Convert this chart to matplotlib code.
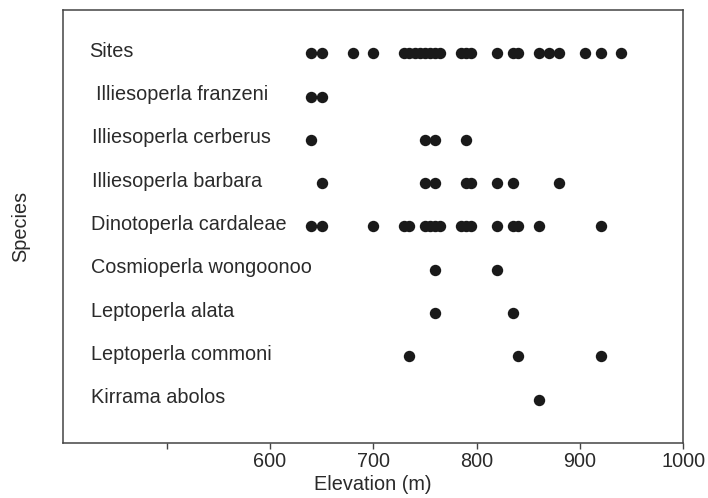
import matplotlib
matplotlib.use("Agg")
import matplotlib.pyplot as plt

plt.rcParams['font.family'] = ['Liberation Sans', 'DejaVu Sans']

# ---- data ----
species = [
    "Sites",
    "Illiesoperla franzeni",
    "Illiesoperla cerberus",
    "Illiesoperla barbara",
    "Dinotoperla cardaleae",
    "Cosmioperla wongoonoo",
    "Leptoperla alata",
    "Leptoperla commoni",
    "Kirrama abolos",
]
sites = [640, 650, 680, 700, 730, 735, 740, 745, 750, 755, 760, 765,
         785, 790, 795, 820, 835, 840, 860, 870, 880, 905, 920, 940]
franzeni = [640, 650]
cerberus = [640, 750, 760, 790]
barbara = [650, 750, 760, 790, 795, 820, 835, 880]
cardaleae = [640, 650, 700, 730, 735, 750, 755, 760, 765,
             785, 790, 795, 820, 835, 840, 860, 920]
wongoonoo = [760, 820]
alata = [760, 835]
commoni = [735, 840, 920]
kirrama = [860]
elevations = [sites, franzeni, cerberus, barbara, cardaleae,
              wongoonoo, alata, commoni, kirrama]
xticks = [500, 600, 700, 800, 900, 1000]
xticklabels = ["", "600", "700", "800", "900", "1000"]

# ---- layout ----
label_x = [425, 431.5, 428, 428, 427, 427, 427, 427, 427]

fig = plt.figure(figsize=(7.08, 4.98), dpi=100)
ax = fig.add_axes([63.3 / 708, 1 - 443 / 498, 620 / 708, 433 / 498])

n = len(species)
for i, (name, vals) in enumerate(zip(species, elevations)):
    y = n - i
    ax.plot(vals, [y] * len(vals), 'o', color='#1a1a1a', markersize=8.2,
            markeredgewidth=0, linestyle='none')
    ax.text(label_x[i], y - 0.08, name, ha='left', va='baseline',
            fontsize=14.3, color='#2a2a2a')

ax.set_xlim(400, 1000)
ax.set_ylim(0, 10)
ax.set_xticks(xticks)
ax.set_xticklabels(xticklabels)
ax.set_yticks([])
ax.tick_params(axis='x', direction='out', length=4, width=1.0,
               color='#444444', labelsize=14.3, labelcolor='#2a2a2a', pad=2.5)
for s in ax.spines.values():
    s.set_color('#444444')
    s.set_linewidth(1.1)

fig.text(373 / 708, 1 - 484 / 498, "Elevation (m)", ha='center', va='center',
         fontsize=14.3, color='#2a2a2a')
fig.text(21 / 708, 1 - 226 / 498, "Species", ha='center', va='center',
         rotation=90, fontsize=14.3, color='#2a2a2a')

fig.savefig("out.png", dpi=100)
